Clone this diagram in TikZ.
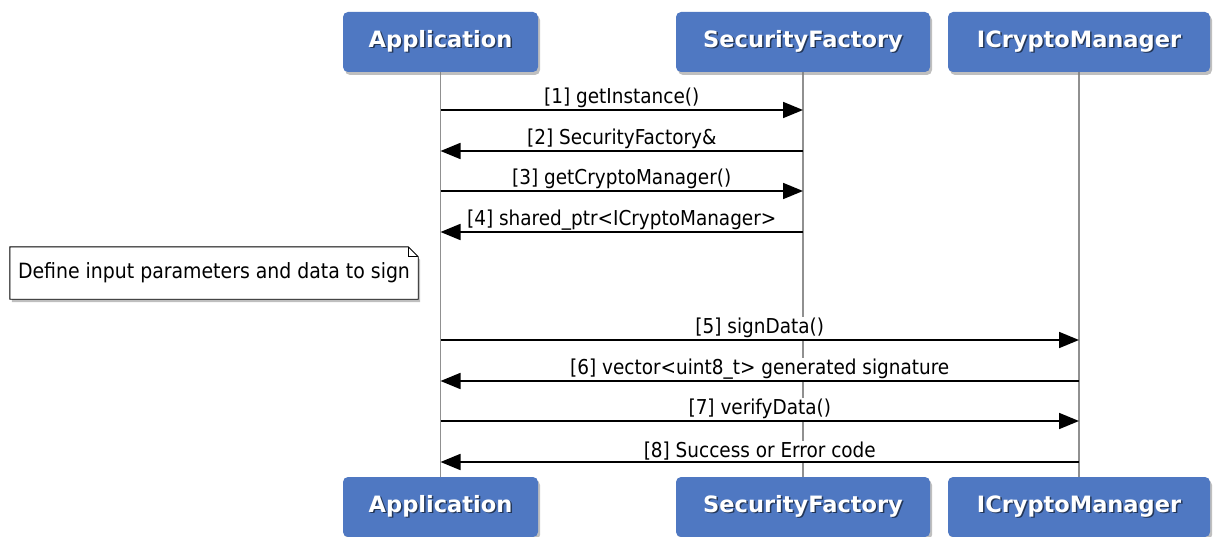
\documentclass[tikz,border=0pt]{standalone}
\usepackage{fontspec}
\setmainfont{DejaVu Sans}
\newfontfamily\condfont{DejaVu Sans Condensed}
\usetikzlibrary{arrows.meta,shadows,backgrounds,positioning}

\definecolor{actorblue}{HTML}{4F78C2}
\definecolor{lifegray}{HTML}{909090}

\newcommand\shadetext[1]{\rlap{\kern1.5pt\raisebox{-1.5pt}{\textcolor{actorblue!45!black}{#1}}}#1}

\tikzset{
  actor/.style={fill=actorblue, rounded corners=5pt, text=white,
    font=\bfseries\fontsize{22.5}{26}\selectfont, minimum height=60pt,
    drop shadow={shadow xshift=2pt, shadow yshift=-3pt, opacity=0.5}},
  lifeline/.style={lifegray, line width=1.6pt},
  msg/.style={line width=1.8pt, -{Triangle[length=20pt,width=16pt]}},
  msglabel/.style={fill=white, inner sep=1pt, font=\condfont\fontsize{20.5}{22}\selectfont}
}

\begin{document}
\begin{tikzpicture}[x=1pt,y=-1pt]
  \useasboundingbox (0,0) rectangle (1214,537);

  % participants
  \node[actor, minimum width=195pt] (appTop) at (440.5,42) {\shadetext{Application}};
  \node[actor, minimum width=254pt] (sfTop) at (803,42) {\shadetext{SecurityFactory}};
  \node[actor, minimum width=262pt] (icmTop) at (1079,42) {\shadetext{ICryptoManager}};
  \node[actor, minimum width=195pt] (appBot) at (440.5,507) {\shadetext{Application}};
  \node[actor, minimum width=254pt] (sfBot) at (803,507) {\shadetext{SecurityFactory}};
  \node[actor, minimum width=262pt] (icmBot) at (1079,507) {\shadetext{ICryptoManager}};

  % lifelines
  \begin{scope}[on background layer]
    \draw[lifeline] (appTop) -- (appBot);
    \draw[lifeline] (sfTop) -- (sfBot);
    \draw[lifeline] (icmTop) -- (icmBot);
  \end{scope}

  % message rows
  \coordinate (m1) at (0,110);
  \coordinate (m2) at (0,151);
  \coordinate (m3) at (0,191);
  \coordinate (m4) at (0,232);
  \coordinate (m5) at (0,340);
  \coordinate (m6) at (0,381);
  \coordinate (m7) at (0,421);
  \coordinate (m8) at (0,462);

  \draw[msg] (appTop |- m1) -- (sfTop |- m1) node[midway, above=0pt, msglabel] {[1] getInstance()};
  \draw[msg] (sfTop |- m2) -- (appTop |- m2) node[midway, above=0pt, msglabel] {[2] SecurityFactory\&};
  \draw[msg] (appTop |- m3) -- (sfTop |- m3) node[midway, above=0pt, msglabel] {[3] getCryptoManager()};
  \draw[msg] (sfTop |- m4) -- (appTop |- m4) node[midway, above=0pt, msglabel] {[4] shared\_ptr<ICryptoManager>};

  % note
  \node[font=\condfont\fontsize{21}{23}\selectfont, minimum width=408pt, minimum height=52pt] (note) at (214,273) {Define input parameters and data to sign};
  \begin{scope}[on background layer]
    \draw[fill=white, line width=0.9pt, drop shadow={shadow xshift=2pt, shadow yshift=-3pt, opacity=0.5}]
      (note.north west) -- ([xshift=-10pt]note.north east) -- ([yshift=-10pt]note.north east)
      -- (note.south east) -- (note.south west) -- cycle;
    \draw[line width=0.9pt] ([xshift=-10pt]note.north east) |- ([yshift=-10pt]note.north east);
  \end{scope}

  \draw[msg] (appTop |- m5) -- (icmTop |- m5) node[midway, above=0pt, msglabel] {[5] signData()};
  \draw[msg] (icmTop |- m6) -- (appTop |- m6) node[midway, above=0pt, msglabel] {[6] vector<uint8\_t> generated signature};
  \draw[msg] (appTop |- m7) -- (icmTop |- m7) node[midway, above=0pt, msglabel] {[7] verifyData()};
  \draw[msg] (icmTop |- m8) -- (appTop |- m8) node[midway, above=0pt, msglabel] {[8] Success or Error code};
\end{tikzpicture}
\end{document}
